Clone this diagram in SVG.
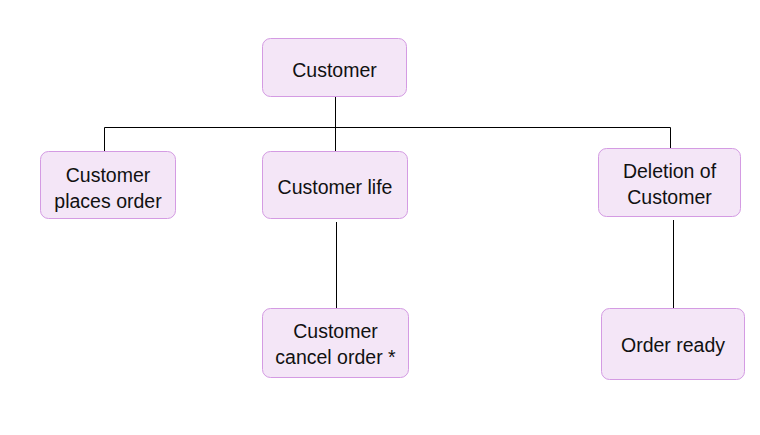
<svg xmlns="http://www.w3.org/2000/svg" width="760" height="435" viewBox="0 0 760 435">
<style>
.n{fill:#f4e6f7;stroke:#d49be3;stroke-width:1}
.t{font-family:"Liberation Sans",Arial,sans-serif;font-size:19.5px;fill:#111;text-anchor:middle}
.c{stroke:#000;stroke-width:1;fill:none}
</style>
<rect width="760" height="435" fill="#fff"/>
<g id="connectors">
<path class="c" d="M335.5,97 V127.5 M104.5,127.5 H670.5 M104.5,127.5 V152 M335.5,127.5 V152 M670.5,127.5 V148"/>
<path class="c" d="M336.5,222 V308"/>
<path class="c" d="M673.5,220 V308"/>
</g>
<g id="customer"><rect class="n" x="262.5" y="38.5" width="144" height="58" rx="8"/><text class="t" x="334.5" y="76.5">Customer</text></g>
<g id="places"><rect class="n" x="40.5" y="151.5" width="135" height="67" rx="8"/><text class="t" x="108" y="181.5">Customer</text><text class="t" x="108" y="207.5">places order</text></g>
<g id="life"><rect class="n" x="262.5" y="151.5" width="145" height="67" rx="8"/><text class="t" x="335" y="194">Customer life</text></g>
<g id="deletion"><rect class="n" x="598.5" y="148.5" width="142" height="68" rx="8"/><text class="t" x="669.5" y="177.5">Deletion of</text><text class="t" x="669.5" y="203.5">Customer</text></g>
<g id="cancel"><rect class="n" x="262.5" y="308.5" width="146" height="69" rx="8"/><text class="t" x="335.5" y="338">Customer</text><text class="t" x="335.5" y="364">cancel order *</text></g>
<g id="ready"><rect class="n" x="601.5" y="308.5" width="143" height="71" rx="8"/><text class="t" x="673" y="352">Order ready</text></g>
</svg>
